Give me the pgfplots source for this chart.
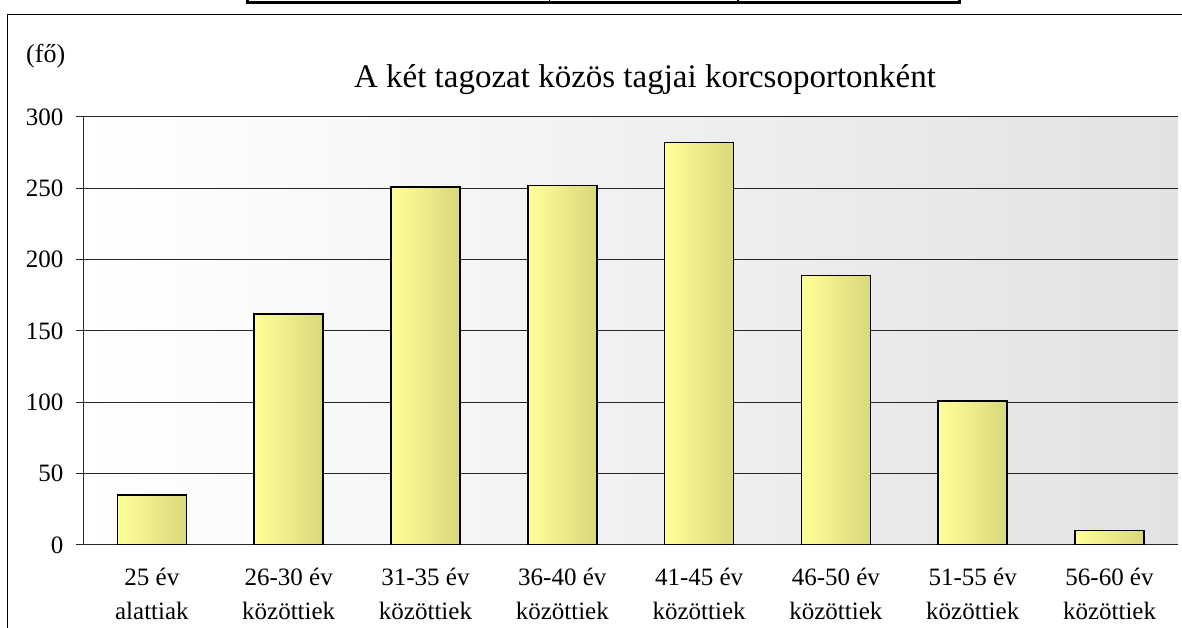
\documentclass[border=0pt]{standalone}
\usepackage{fontspec}
\setmainfont{Liberation Serif}
\usepackage{pgfplots}
\pgfplotsset{compat=1.18}
\definecolor{barL}{HTML}{FFFF99}
\definecolor{barR}{HTML}{D8D87C}
\definecolor{bgR}{HTML}{E2E2E2}
\tikzset{mybar/.style={ybar, bar width=69bp, bar shift=0pt, draw=black, line width=1.5bp, left color=barL, right color=barR}}
\begin{document}
\begin{tikzpicture}
\useasboundingbox (0,0) rectangle (1182bp,628bp);
\fill[white] (0,0) rectangle (1182bp,628bp);
% outer chart frame (cropped)
\draw[line width=1.5bp] (7.5bp,-20bp) -- (7.5bp,613.5bp) -- (1200bp,613.5bp);
% table fragment at top
\draw[line width=3bp] (247bp,640bp) -- (247bp,625bp) -- (959bp,625bp) -- (959bp,640bp);
\draw[line width=1.5bp] (549.5bp,640bp) -- (549.5bp,625bp);
\draw[line width=1.5bp] (738bp,640bp) -- (738bp,625bp);
\node[anchor=base west, inner sep=0pt, font=\fontsize{26bp}{30bp}\selectfont] at (26bp,565bp) {(fő)};
\node[anchor=base, inner sep=0pt, font=\fontsize{33bp}{37bp}\selectfont] at (645bp,540bp) {A két tagozat közös tagjai korcsoportonként};
\begin{axis}[
  at={(83.5bp,83bp)}, anchor=south west,
  scale only axis, width=1094.5bp, height=428bp,
  xmin=-0.5, xmax=7.5, ymin=0, ymax=300,
  axis x line*=bottom, axis y line*=left,
  axis line style={-, line width=1bp, black!85},
  axis background/.style={left color=white, right color=bgR},
  ytick={0,50,...,300},
  ymajorgrids, grid style={line width=1bp, black!85},
  xtick={0,...,7},
  xticklabels={{25 év\\alattiak},{26-30 év\\közöttiek},{31-35 év\\közöttiek},{36-40 év\\közöttiek},{41-45 év\\közöttiek},{46-50 év\\közöttiek},{51-55 év\\közöttiek},{56-60 év\\közöttiek}},
  x tick style={draw=none},
  extra x ticks={-0.5,0.5,...,7.5},
  extra x tick labels={},
  extra x tick style={tick style={draw=black!85, line width=1bp}, major tick length=8bp, tick align=outside},
  y tick style={line width=1bp, black!85},
  major tick length=7bp, tick align=outside,
  /pgf/number format/assume math mode=true,
  ticklabel style={font=\fontsize{25bp}{33.7bp}\selectfont},
  yticklabel style={anchor=east, inner sep=0pt, xshift=-13bp},
  xticklabel style={anchor=north, inner sep=0pt, align=center, yshift=-16bp},
  ybar, bar width=69bp, bar shift=0pt,
]
\addplot[mybar] coordinates {(0,35)};
\addplot[mybar] coordinates {(1,162)};
\addplot[mybar] coordinates {(2,251)};
\addplot[mybar] coordinates {(3,252)};
\addplot[mybar] coordinates {(4,282)};
\addplot[mybar] coordinates {(5,189)};
\addplot[mybar] coordinates {(6,101)};
\addplot[mybar] coordinates {(7,10)};
\end{axis}
\end{tikzpicture}
\end{document}
